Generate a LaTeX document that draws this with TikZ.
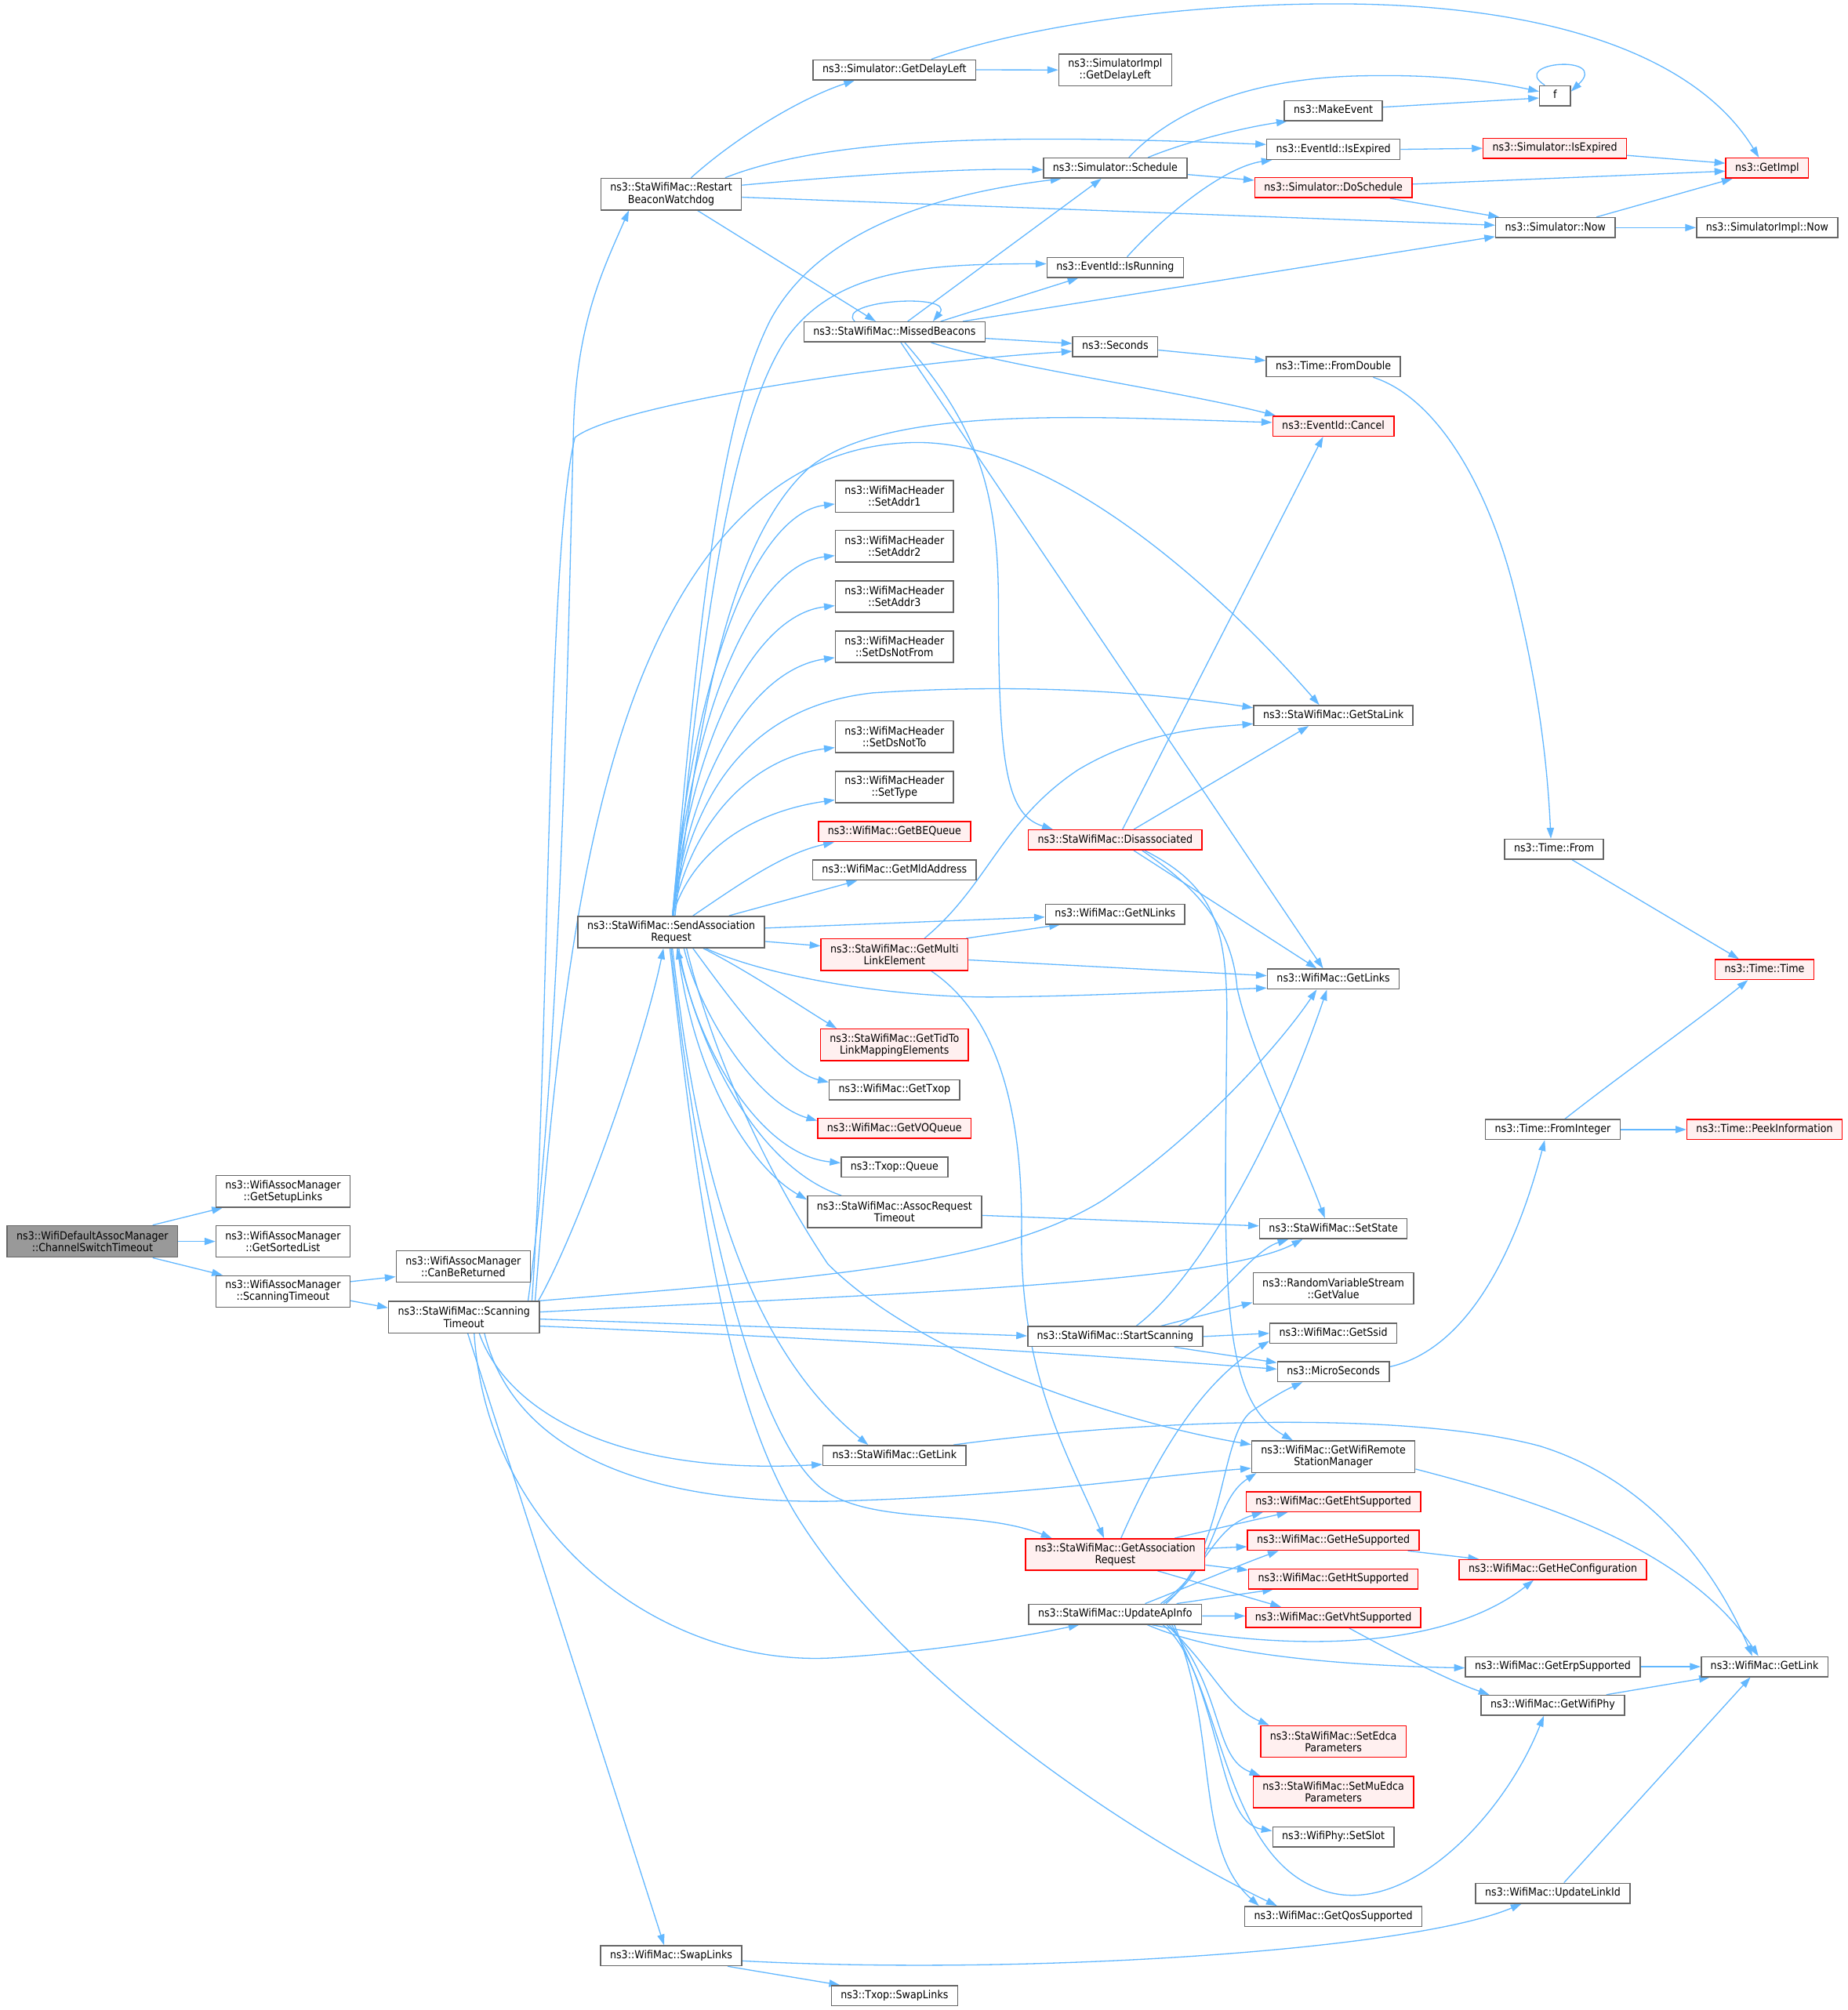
\documentclass[tikz,border=0pt]{standalone}
\usepackage{fontspec}
\newfontfamily\nodefont{DejaVu Sans}[FakeStretch=0.9]
\usetikzlibrary{arrows.meta}
\definecolor{edgeblue}{HTML}{63B8FF}
\definecolor{bordergray}{HTML}{666666}
\definecolor{pinkfill}{HTML}{FFF0F0}
\definecolor{rootfill}{HTML}{999999}
\pgfdeclarelayer{bg}
\pgfsetlayers{bg,main}
\tikzset{
  base/.style={draw=bordergray, line width=0.9pt, fill=white, font=\nodefont\fontsize{8.6}{9.3}\selectfont, inner xsep=7.3pt, inner ysep=1pt, align=center},
  nd/.style={base, minimum height=15.6pt, text height=6.3pt, text depth=1.8pt},
  nd2/.style={base, minimum height=24.6pt},
  rd/.style={nd, draw=red, fill=pinkfill},
  rd2/.style={nd2, draw=red, fill=pinkfill},
  root/.style={nd2, fill=rootfill},
  ln/.style={draw=edgeblue, line width=0.8pt, -{Triangle[length=8.4pt,width=5.6pt]}},
}
\begin{document}
\begin{tikzpicture}[x=1pt,y=-1pt]
\useasboundingbox (0,0) rectangle (1440,1566.5);
% ---------------- nodes
\node[root] (cst) at (72,967.5) {ns3::WifiDefaultAssocManager\\::ChannelSwitchTimeout};
\node[nd2] (gsl) at (220.5,928.5) {ns3::WifiAssocManager\\::GetSetupLinks};
\node[nd2] (gsol) at (220.5,967.5) {ns3::WifiAssocManager\\::GetSortedList};
\node[nd2] (wst) at (220.5,1006.5) {ns3::WifiAssocManager\\::ScanningTimeout};
\node[nd2] (cbr) at (361,987) {ns3::WifiAssocManager\\::CanBeReturned};
\node[nd2] (sst) at (361.5,1026.5) {ns3::StaWifiMac::Scanning\\Timeout};
\node[nd2] (rbw) at (523,151.3) {ns3::StaWifiMac::Restart\\BeaconWatchdog};
\node[nd] (gdl) at (697,54.4) {ns3::Simulator::GetDelayLeft};
\node[nd2] (sigdl) at (869,54.5) {ns3::SimulatorImpl\\::GetDelayLeft};
\node[nd, minimum width=24pt] (f) at (1211.7,74.6) {f};
\node[nd] (mke) at (1039,86.2) {ns3::MakeEvent};
\node[nd] (iexp) at (1039,116.4) {ns3::EventId::IsExpired};
\node[rd] (siexp) at (1211.6,115.6) {ns3::Simulator::IsExpired};
\node[rd] (gimpl) at (1377,131) {ns3::GetImpl};
\node[nd] (sched) at (869,131) {ns3::Simulator::Schedule};
\node[rd] (dosch) at (1039,146.3) {ns3::Simulator::DoSchedule};
\node[nd] (now) at (1212,177.4) {ns3::Simulator::Now};
\node[nd] (sinow) at (1377,177.4) {ns3::SimulatorImpl::Now};
\node[nd] (irun) at (869,208.4) {ns3::EventId::IsRunning};
\node[nd] (mb) at (697,258.7) {ns3::StaWifiMac::MissedBeacons};
\node[nd] (sec) at (869,270.1) {ns3::Seconds};
\node[nd] (fdbl) at (1039,285.8) {ns3::Time::FromDouble};
\node[rd] (cancel) at (1039,332.1) {ns3::EventId::Cancel};
\node[nd2] (sa1) at (697,386.8) {ns3::WifiMacHeader\\::SetAddr1};
\node[nd2] (sa2) at (697,425.7) {ns3::WifiMacHeader\\::SetAddr2};
\node[nd2] (sa3) at (697,464.9) {ns3::WifiMacHeader\\::SetAddr3};
\node[nd2] (sdnf) at (697,504) {ns3::WifiMacHeader\\::SetDsNotFrom};
\node[nd] (gstal) at (1039,557.6) {ns3::StaWifiMac::GetStaLink};
\node[nd2] (sdnt) at (697,574.1) {ns3::WifiMacHeader\\::SetDsNotTo};
\node[nd2] (stype) at (697,613.4) {ns3::WifiMacHeader\\::SetType};
\node[rd] (gbeq) at (697,648.2) {ns3::WifiMac::GetBEQueue};
\node[rd] (disas) at (869,654.6) {ns3::StaWifiMac::Disassociated};
\node[nd] (tfrom) at (1211,661.8) {ns3::Time::From};
\node[nd] (gmld) at (697,678.1) {ns3::WifiMac::GetMldAddress};
\node[nd2] (sar) at (523,726.4) {ns3::StaWifiMac::SendAssociation\\Request};
\node[nd] (gnl) at (869,712.4) {ns3::WifiMac::GetNLinks};
\node[rd2] (gml) at (697,744) {ns3::StaWifiMac::GetMulti\\LinkElement};
\node[nd] (glinks) at (1039,763) {ns3::WifiMac::GetLinks};
\node[rd] (ttime) at (1375,755.6) {ns3::Time::Time};
\node[rd2] (gtid) at (697,814.3) {ns3::StaWifiMac::GetTidTo\\LinkMappingElements};
\node[nd] (gtxop) at (697,849.4) {ns3::WifiMac::GetTxop};
\node[rd] (gvoq) at (697,879.4) {ns3::WifiMac::GetVOQueue};
\node[nd] (tq) at (697,909.6) {ns3::Txop::Queue};
\node[nd2] (art) at (697,944.4) {ns3::StaWifiMac::AssocRequest\\Timeout};
\node[nd] (fint) at (1210,880.3) {ns3::Time::FromInteger};
\node[rd] (peek) at (1375,880.3) {ns3::Time::PeekInformation};
\node[nd] (sstate) at (1039,957.6) {ns3::StaWifiMac::SetState};
\node[nd2] (gval) at (1039,1004.1) {ns3::RandomVariableStream\\::GetValue};
\node[nd] (sscan) at (869,1041.6) {ns3::StaWifiMac::StartScanning};
\node[nd] (gssid) at (1039,1039.1) {ns3::WifiMac::GetSsid};
\node[nd] (micro) at (1039,1069) {ns3::MicroSeconds};
\node[nd] (sgl) at (697,1134.3) {ns3::StaWifiMac::GetLink};
\node[nd2] (gwrsm) at (1039,1135.3) {ns3::WifiMac::GetWifiRemote\\StationManager};
\node[rd] (geht) at (1039,1170.4) {ns3::WifiMac::GetEhtSupported};
\node[rd2] (gar) at (869,1211.5) {ns3::StaWifiMac::GetAssociation\\Request};
\node[rd] (ghe) at (1039,1200.4) {ns3::WifiMac::GetHeSupported};
\node[rd] (ghecfg) at (1210,1223.3) {ns3::WifiMac::GetHeConfiguration};
\node[rd] (ght) at (1039,1230.5) {ns3::WifiMac::GetHtSupported};
\node[nd] (uai) at (869,1258) {ns3::StaWifiMac::UpdateApInfo};
\node[rd] (gvht) at (1039,1260.6) {ns3::WifiMac::GetVhtSupported};
\node[nd] (gerp) at (1210,1298.9) {ns3::WifiMac::GetErpSupported};
\node[nd] (wgl) at (1375,1298.9) {ns3::WifiMac::GetLink};
\node[nd] (gphy) at (1210,1329) {ns3::WifiMac::GetWifiPhy};
\node[rd2] (sedca) at (1039,1357.3) {ns3::StaWifiMac::SetEdca\\Parameters};
\node[rd2] (smuedca) at (1039,1396.6) {ns3::StaWifiMac::SetMuEdca\\Parameters};
\node[nd] (sslot) at (1039,1431.6) {ns3::WifiPhy::SetSlot};
\node[nd] (uli) at (1210,1475.5) {ns3::WifiMac::UpdateLinkId};
\node[nd] (gqos) at (1039,1493.5) {ns3::WifiMac::GetQosSupported};
\node[nd] (swl) at (523,1524.2) {ns3::WifiMac::SwapLinks};
\node[nd] (tswl) at (697,1555.3) {ns3::Txop::SwapLinks};
% ---------------- edges
\begin{pgfonlayer}{bg}
\fill[white] (0,0) rectangle (1440,1566.5);
% left cluster
\draw[ln] ([xshift=47pt]cst.north) -- ([xshift=-47pt]gsl.south);
\draw[ln] (cst.east) -- (gsol.west);
\draw[ln] ([xshift=47pt]cst.south) -- ([xshift=-47pt]wst.north);
\draw[ln] ([yshift=7.7pt]wst.east) -- ([yshift=-8pt]cbr.west);
\draw[ln] ([yshift=-7.2pt]wst.east) -- ([yshift=7.3pt]sst.west);
% ScanningTimeout upwards
\draw[ln] ([xshift=50pt]sst.north) .. controls (438,820) and (443,480) .. (447,330) .. controls (450,250) and (470,210) .. ([xshift=-33pt]rbw.south);
\draw[ln] ([xshift=53pt]sst.north) .. controls (428,820) and (426,430) .. (448,341) .. controls (480,315) and (700,282) .. ([yshift=-3.7pt]sec.west);
\draw[ln] ([xshift=55.5pt]sst.north) .. controls (430,850) and (445,700) .. (481,582) .. controls (515,470) and (580,350) .. (708,345) .. controls (820,340) and (950,460) .. ([xshift=-11pt]gstal.north);
\draw[ln] ([xshift=58pt]sst.north) .. controls (450,960) and (500,820) .. ([xshift=-6pt]sar.south);
% ScanningTimeout right
\draw[ln] (sst.north east) .. controls (650,995) and (780,985) .. (860,935) .. controls (940,880) and (1000,810) .. ([xshift=-13pt]glinks.south);
\draw[ln] ([yshift=4pt]sst.east) .. controls (700,1008) and (950,1000) .. ([xshift=-24pt]sstate.south);
\draw[ln] ([yshift=-1.5pt]sst.east) -- ([yshift=0.5pt]sscan.west);
\draw[ln] ([yshift=-7pt]sst.east) .. controls (700,1045) and (900,1060) .. ([yshift=2pt]micro.west);
% ScanningTimeout down
\draw[ln] ([xshift=12pt]sst.south) .. controls (395,1100) and (480,1150) .. ([yshift=-7pt]sgl.west);
\draw[ln] ([xshift=16pt]sst.south) .. controls (400,1130) and (500,1172) .. (648,1170) .. controls (800,1166) and (900,1150) .. ([yshift=-9pt]gwrsm.west);
\draw[ln] ([xshift=8pt]sst.south) .. controls (380,1200) and (520,1300) .. (650,1292) .. controls (730,1287) and (800,1275) .. ([xshift=-28pt]uai.south);
\draw[ln] ([xshift=3pt]sst.south) -- ([xshift=-5.5pt]swl.north);
% RestartBeaconWatchdog
\draw[ln] ([xshift=15.5pt]rbw.north) .. controls (570,110) and (620,78) .. ([xshift=-31pt]gdl.south);
\draw[ln] ([xshift=42pt]rbw.north) .. controls (650,105) and (800,105) .. ([yshift=3.8pt]iexp.west);
\draw[ln] ([yshift=7pt]rbw.east) .. controls (680,135) and (760,131) .. ([yshift=-1.3pt]sched.west);
\draw[ln] ([yshift=-2.4pt]rbw.east) -- ([yshift=1.9pt]now.west);
\draw[ln] ([xshift=20.5pt]rbw.south) -- ([xshift=-14.6pt]mb.north);
% GetDelayLeft
\draw[ln] (gdl.east) -- (sigdl.west);
\draw[ln] ([xshift=28.7pt]gdl.north) .. controls (800,20) and (920,3) .. (1040,3) .. controls (1200,3) and (1320,40) .. ([xshift=-6.4pt]gimpl.north);
% Schedule and friends
\draw[ln] ([xshift=10.7pt]sched.north) .. controls (905,95) and (960,60) .. (1067,59) .. controls (1130,58) and (1170,65) .. ([yshift=3.3pt]f.west);
\draw[ln] ([xshift=25.5pt]sched.north) .. controls (920,112) and (965,100) .. ([xshift=-36pt]mke.south);
\draw[ln] ([yshift=-5pt]sched.east) -- ([yshift=5.8pt]dosch.west);
\draw[ln] ([yshift=2.7pt]mke.east) -- ([yshift=-1.8pt]f.west);
\draw[ln] ([xshift=-8pt]f.north) .. controls (1175,48) and (1255,42) .. ([yshift=3.3pt]f.east);
\draw[ln] (iexp.east) -- (siexp.west);
\draw[ln] ([yshift=-5.5pt]siexp.east) -- ([yshift=3.8pt]gimpl.west);
\draw[ln] ([yshift=2.8pt]dosch.east) -- ([yshift=-2.4pt]gimpl.west);
\draw[ln] ([xshift=44pt]dosch.south) -- ([xshift=-43.8pt]now.north);
\draw[ln] ([xshift=32pt]now.north) -- ([xshift=-27pt]gimpl.south);
\draw[ln] (now.east) -- (sinow.west);
\draw[ln] ([xshift=9.3pt]irun.north) .. controls (910,165) and (955,130) .. ([xshift=-47.7pt]iexp.south);
% MissedBeacons
\draw[ln] ([xshift=-31pt]mb.north) .. controls (650,234) and (745,228) .. ([xshift=30pt]mb.north);
\draw[ln] ([xshift=10.3pt]mb.north) -- ([xshift=-10.8pt]sched.south);
\draw[ln] ([xshift=36pt]mb.north) -- ([xshift=-28.7pt]irun.south);
\draw[ln] ([xshift=53.3pt]mb.north) -- ([yshift=-7pt]now.west);
\draw[ln] ([yshift=-5pt]mb.east) -- ([yshift=2.4pt]sec.west);
\draw[ln] ([xshift=28.5pt]mb.south) .. controls (780,285) and (920,305) .. ([xshift=-45pt]cancel.north);
\draw[ln] ([xshift=8pt]mb.south) .. controls (760,330) and (778,380) .. (778,470) .. controls (778,600) and (785,635) .. ([xshift=-48.6pt]disas.north);
\draw[ln] ([xshift=5pt]mb.south) -- ([xshift=-8pt]glinks.north);
% Time
\draw[ln] ([yshift=-2.7pt]sec.east) -- ([yshift=4.8pt]fdbl.west);
\draw[ln] ([xshift=31pt]fdbl.south) .. controls (1120,310) and (1160,380) .. (1180,460) .. controls (1200,540) and (1206,600) .. ([xshift=-2.5pt]tfrom.north);
\draw[ln] ([xshift=14pt]tfrom.south) -- ([xshift=-20pt]ttime.north);
\draw[ln] ([xshift=9.4pt]fint.north) .. controls (1260,840) and (1330,790) .. ([xshift=-13pt]ttime.south);
\draw[ln] (fint.east) -- (peek.west);
\draw[ln] ([yshift=3.8pt]micro.east) .. controls (1150,1050) and (1185,960) .. ([xshift=-6.3pt]fint.south);
% SendAssociationRequest: upper fan
\draw[ln] ([xshift=1pt]sar.north) .. controls (545,480) and (560,330) .. (600,250) .. controls (640,175) and (740,150) .. ([xshift=-42pt]sched.south);
\draw[ln] ([xshift=2pt]sar.north) .. controls (548,480) and (570,330) .. (612,265) .. controls (650,210) and (720,205.6) .. ([yshift=2.8pt]irun.west);
\draw[ln] ([xshift=3pt]sar.north) .. controls (545,550) and (570,420) .. (630,365) .. controls (690,315) and (850,325) .. ([yshift=2.9pt]cancel.west);
\draw[ln] ([xshift=1pt]sar.north) .. controls (540,520) and (590,400) .. ([yshift=-6pt]sa1.west);
\draw[ln] ([xshift=1pt]sar.north) .. controls (540,545) and (590,440) .. ([yshift=-7.3pt]sa2.west);
\draw[ln] ([xshift=1pt]sar.north) .. controls (540,569) and (590,479) .. ([yshift=-7.1pt]sa3.west);
\draw[ln] ([xshift=1pt]sar.north) .. controls (540,594) and (590,521) .. ([yshift=-8.5pt]sdnf.west);
\draw[ln] ([xshift=1pt]sar.north) .. controls (540,610) and (590,550) .. (680,540) .. controls (800,532) and (900,540) .. ([yshift=6pt]gstal.west);
\draw[ln] ([xshift=1pt]sar.north) .. controls (540,635) and (590,590) .. ([yshift=-8.5pt]sdnt.west);
\draw[ln] ([xshift=1pt]sar.north) .. controls (540,660) and (590,632) .. ([yshift=-10pt]stype.west);
\draw[ln] ([xshift=17pt]sar.north) .. controls (575,690) and (610,665) .. ([xshift=-47pt]gbeq.south);
\draw[ln] ([xshift=45pt]sar.north) -- ([xshift=-29pt]gmld.south);
\draw[ln] ([yshift=3.1pt]sar.east) -- ([yshift=-2.3pt]gnl.west);
\draw[ln] ([yshift=-7.3pt]sar.east) -- ([yshift=6.8pt]gml.west);
% SendAssociationRequest: lower fan
\draw[ln] ([xshift=27pt]sar.south) .. controls (600,762) and (700,778) .. (778,777) .. controls (860,776) and (930,772) .. ([yshift=-7pt]glinks.west);
\draw[ln] ([xshift=25pt]sar.south) .. controls (580,755) and (625,785) .. ([xshift=-45pt]gtid.north);
\draw[ln] ([xshift=17pt]sar.south) .. controls (570,780) and (610,835) .. ([yshift=6pt]gtxop.west);
\draw[ln] ([xshift=10pt]sar.south) .. controls (545,790) and (590,860) .. ([yshift=6pt]gvoq.west);
\draw[ln] ([xshift=6pt]sar.south) .. controls (540,810) and (590,900) .. ([yshift=3.3pt]tq.west);
\draw[ln] ([xshift=5pt]sar.south) .. controls (540,840) and (585,910) .. ([yshift=9.5pt]art.west);
\draw[ln] ([xshift=-41.4pt]art.north) .. controls (605,915) and (555,850) .. ([xshift=4.5pt]sar.south);
\draw[ln] ([xshift=1pt]sar.south) .. controls (540,880) and (570,1040) .. ([xshift=-20.5pt]sgl.north);
\draw[ln] (sar.south) .. controls (545,950) and (590,1120) .. (640,1160) .. controls (680,1190) and (760,1175) .. ([xshift=-49.4pt]gar.north);
\draw[ln] ([xshift=-1pt]sar.south) .. controls (540,900) and (560,1080) .. (620,1180) .. controls (700,1310) and (880,1430) .. ([xshift=-44pt]gqos.north);
\draw[ln] ([xshift=12pt]sar.south) .. controls (555,820) and (595,910) .. (645,985) .. controls (720,1060) and (880,1110) .. ([yshift=9.5pt]gwrsm.west);
% GetMultiLinkElement
\draw[ln] ([xshift=56pt]gml.north) -- ([xshift=-43pt]gnl.south);
\draw[ln] ([xshift=23.4pt]gml.north) .. controls (770,690) and (780,640) .. (840,600) .. controls (890,570) and (940,567) .. ([yshift=-6.5pt]gstal.west);
\draw[ln] ([yshift=-4.1pt]gml.east) -- ([yshift=2.6pt]glinks.west);
\draw[ln] ([xshift=28.6pt]gml.south) .. controls (775,790) and (797,860) .. (796,960) .. controls (795,1070) and (830,1130) .. ([xshift=-8.7pt]gar.north);
% Disassociated
\draw[ln] ([xshift=5.7pt]disas.north) -- ([xshift=-8pt]cancel.south);
\draw[ln] ([xshift=14.5pt]disas.north) -- ([xshift=-19.2pt]gstal.south);
\draw[ln] ([xshift=14.5pt]disas.south) -- ([xshift=-13pt]glinks.north);
\draw[ln] ([xshift=21pt]disas.south) .. controls (930,690) and (960,720) .. (964,770) .. controls (975,820) and (1010,890) .. ([xshift=-6.6pt]sstate.north);
\draw[ln] ([xshift=23pt]disas.south) .. controls (945,690) and (957,720) .. (956,800) .. controls (954,1000) and (950,1090) .. ([xshift=-31.6pt]gwrsm.north);
% StartScanning
\draw[ln] ([xshift=16.4pt]sscan.north) .. controls (930,1000) and (990,900) .. ([xshift=-5pt]glinks.south);
\draw[ln] ([xshift=49.5pt]sscan.north) .. controls (950,1015) and (975,975) .. ([xshift=-35pt]sstate.south);
\draw[ln] ([xshift=35.7pt]sscan.north) -- ([yshift=-11pt]gval.west);
\draw[ln] (sscan.east) -- (gssid.west);
\draw[ln] ([xshift=46pt]sscan.south) -- ([yshift=7pt]micro.west);
% AssocRequestTimeout, GetLink
\draw[ln] ([yshift=-2.8pt]art.east) -- ([yshift=2.2pt]sstate.west);
\draw[ln] ([xshift=46pt]sgl.north) .. controls (900,1105) and (1100,1100) .. (1200,1127) .. controls (1290,1155) and (1340,1230) .. ([xshift=-9.6pt]wgl.north);
\draw[ln] ([yshift=-9.6pt]gwrsm.east) .. controls (1180,1165) and (1310,1200) .. ([xshift=-4.8pt]wgl.north);
% GetAssociationRequest
\draw[ln] ([xshift=46.3pt]gar.north) -- ([xshift=-35.6pt]geht.south);
\draw[ln] ([yshift=4.7pt]gar.east) -- ([yshift=-5pt]ghe.west);
\draw[ln] ([yshift=-8.2pt]gar.east) -- ([yshift=6.8pt]ght.west);
\draw[ln] ([xshift=33pt]gar.south) -- ([xshift=-40.7pt]gvht.north);
\draw[ln] ([xshift=4.5pt]gar.north) .. controls (895,1150) and (930,1080) .. ([yshift=-6pt]gssid.west);
% UpdateApInfo
\draw[ln] ([xshift=23.3pt]uai.north) .. controls (930,1235) and (965,1220) .. ([xshift=-42.7pt]ghe.south);
\draw[ln] ([xshift=35.5pt]uai.north) .. controls (940,1225) and (945,1190) .. ([xshift=-55pt]geht.south);
\draw[ln] ([xshift=47.8pt]uai.north) -- ([xshift=-46.8pt]ght.south);
\draw[ln] ([yshift=-1.4pt]uai.east) -- ([yshift=1.2pt]gvht.west);
\draw[ln] ([xshift=37.6pt]uai.north) .. controls (950,1220) and (945,1170) .. ([xshift=-60pt]gwrsm.south);
\draw[ln] ([xshift=39.6pt]uai.north) .. controls (955,1210) and (950,1120) .. (975,1100) .. controls (990,1090) and (1000,1084) .. ([xshift=-24pt]micro.south);
\draw[ln] ([xshift=28.5pt]uai.south) .. controls (990,1285) and (1120,1290) .. ([xshift=-15pt]ghecfg.south);
\draw[ln] ([xshift=25pt]uai.south) .. controls (930,1282) and (1000,1297) .. ([yshift=-1pt]gerp.west);
\draw[ln] ([xshift=37pt]uai.south) .. controls (950,1300) and (950,1440) .. (1025,1471) .. controls (1090,1500) and (1170,1420) .. ([xshift=-7pt]gphy.south);
\draw[ln] ([xshift=40pt]uai.south) .. controls (945,1300) and (955,1330) .. ([xshift=-50pt]sedca.north);
\draw[ln] ([xshift=42pt]uai.south) .. controls (955,1320) and (945,1370) .. ([xshift=-57pt]smuedca.north);
\draw[ln] ([xshift=44pt]uai.south) .. controls (955,1340) and (950,1420) .. ([yshift=4.7pt]sslot.west);
\draw[ln] ([xshift=46pt]uai.south) .. controls (950,1350) and (930,1440) .. ([xshift=-58pt]gqos.north);
% remaining
\draw[ln] ([xshift=58pt]ghe.south) -- ([xshift=-57.6pt]ghecfg.north);
\draw[ln] ([xshift=12.3pt]gvht.south) .. controls (1090,1290) and (1130,1310) .. ([xshift=-49.5pt]gphy.north);
\draw[ln] (gerp.east) -- (wgl.west);
\draw[ln] ([xshift=41.7pt]gphy.north) -- ([xshift=-42.6pt]wgl.south);
\draw[ln] ([xshift=8.7pt]uli.north) -- ([xshift=-11pt]wgl.south);
\draw[ln] ([yshift=-4pt]swl.east) .. controls (800,1540) and (1100,1520) .. ([xshift=-24.4pt]uli.south);
\draw[ln] ([xshift=44pt]swl.south) -- ([xshift=-42.5pt]tswl.north);
\end{pgfonlayer}
\end{tikzpicture}
\end{document}
